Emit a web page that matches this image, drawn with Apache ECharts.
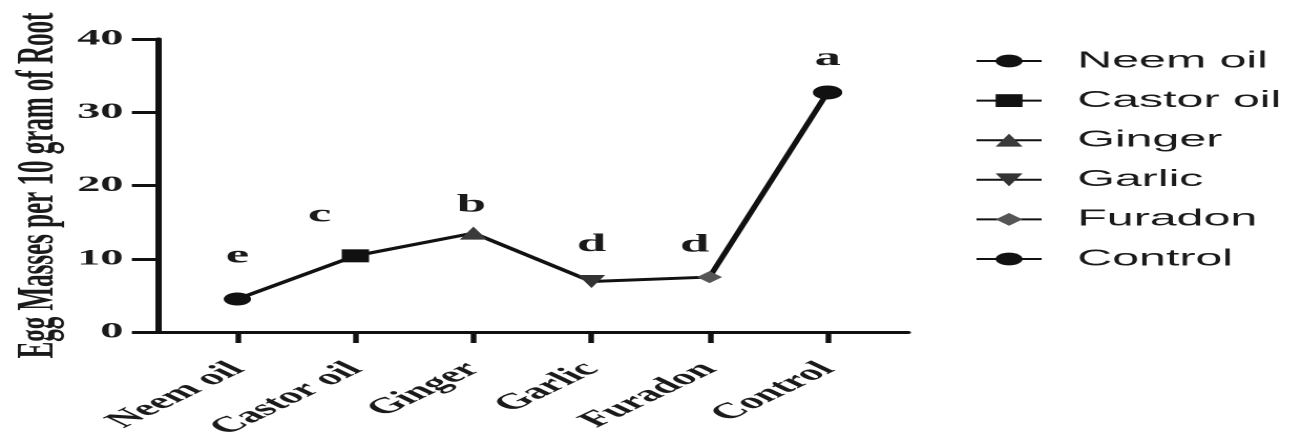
<!DOCTYPE html>
<html>
<head>
<meta charset="utf-8">
<script src="https://cdn.jsdelivr.net/npm/echarts@6/dist/echarts.min.js"></script>
<style>
html,body{margin:0;padding:0;background:#fff;overflow:hidden;}
#wrap{width:1296px;height:439px;overflow:hidden;}
#chart{width:617px;height:439px;transform:scaleX(2.1);transform-origin:0 0;}
</style>
</head>
<body>
<div id="wrap"><div id="chart"></div></div>
<script>
const categories = ['Neem oil', 'Castor oil', 'Ginger', 'Garlic', 'Furadon', 'Control'];
const values = [4.5, 10.4, 13.5, 6.9, 7.5, 32.7];
const letters = ['e', 'c', 'b', 'd', 'd', 'a'];
const yTickStep = 10;
const yMax = 40;

const symbols = ['circle', 'rect', 'triangle', 'triangle', 'diamond', 'circle'];
const symbolRotates = [0, 0, 0, 180, 0, 0];
const symbolSizes = [13, 13, 13, 13, 12, 14];
const colors = ['#111', '#111', '#3a3a3a', '#333', '#555', '#111'];
const labelOffsets = [[0, -43], [-17, -41], [-1, -28], [0, -37], [-7, -32], [0, -34]];

const serif = '"Liberation Serif", "Times New Roman", serif';
const chart = echarts.init(document.getElementById('chart'), null, {devicePixelRatio: 2});

const markerSeries = categories.map((name, k) => ({
  name: name,
  type: 'line',
  data: [[k, values[k]]],
  symbol: symbols[k],
  symbolRotate: symbolRotates[k],
  symbolSize: symbolSizes[k],
  itemStyle: {color: colors[k]},
  lineStyle: {color: '#111', width: 3},
  z: 5,
  label: {
    show: true,
    position: 'inside',
    formatter: () => letters[k],
    offset: labelOffsets[k],
    fontFamily: serif,
    fontWeight: 'bold',
    fontSize: 25,
    color: '#1a1a1a'
  },
  emphasis: {disabled: true}
}));

chart.setOption({
  animation: false,
  backgroundColor: '#fff',
  grid: {left: 74.8, right: 184.7, top: 39, bottom: 107, containLabel: false, outerBoundsMode: 'none'},
  legend: {
    data: categories,
    orient: 'vertical',
    left: 459,
    top: 44.5,
    itemWidth: 31,
    itemHeight: 16,
    itemGap: 16.6,
    textStyle: {fontFamily: '"Liberation Sans", Arial, sans-serif', fontSize: 23, color: '#1a1a1a', lineHeight: 23, padding: [0, 0, 0, 12]}
  },
  xAxis: {
    type: 'value',
    min: -0.68,
    max: 5.68,
    splitLine: {show: false},
    axisLine: {show: true, onZero: false, lineStyle: {color: '#111', width: 3}},
    axisTick: {show: true, length: 11, customValues: categories.map((c, i) => i), lineStyle: {color: '#111', width: 2.7}},
    axisLabel: {
      customValues: categories.map((c, i) => i),
      formatter: v => categories[Math.round(v)],
      rotate: 45,
      margin: 34,
      verticalAlign: 'middle',
      fontFamily: serif,
      fontWeight: 'bold',
      fontSize: 22,
      color: '#1a1a1a'
    }
  },
  yAxis: {
    type: 'value',
    min: 0,
    max: yMax,
    interval: yTickStep,
    name: 'Egg Masses per 10 gram of Root',
    nameLocation: 'middle',
    nameGap: 44,
    nameMoveOverlap: false,
    nameTextStyle: {fontFamily: serif, fontWeight: 'bold', fontSize: 25, color: '#1a1a1a'},
    splitLine: {show: false},
    axisLine: {show: true, onZero: false, lineStyle: {color: '#111', width: 3}},
    axisTick: {show: true, length: 12, lineStyle: {color: '#111', width: 3}},
    axisLabel: {margin: 16, fontFamily: serif, fontWeight: 'bold', fontSize: 22, color: '#1a1a1a'}
  },
  series: [{
    name: 'connect',
    type: 'line',
    data: values.map((v, i) => [i, v]),
    showSymbol: false,
    lineStyle: {color: '#111', width: 3},
    z: 3,
    emphasis: {disabled: true}
  }].concat(markerSeries)
});
</script>
</body>
</html>
